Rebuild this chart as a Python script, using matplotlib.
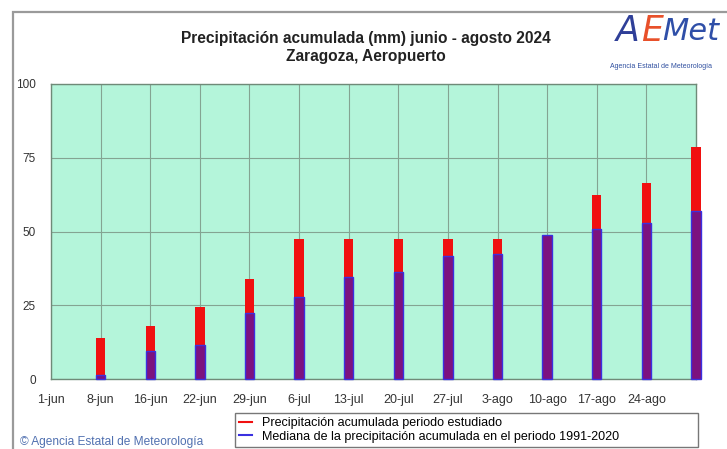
import matplotlib
matplotlib.use("Agg")
import matplotlib.pyplot as plt
from matplotlib.lines import Line2D
from matplotlib.patches import Rectangle

# weekly labels on the x axis (one per grid line)
tick_labels = ['1-jun', '8-jun', '16-jun', '22-jun', '29-jun', '6-jul', '13-jul',
               '20-jul', '27-jul', '3-ago', '10-ago', '17-ago', '24-ago']
# accumulated precipitation 2024 (mm), one bar per week end
observed = [14.0, 18.1, 24.3, 33.9, 47.3, 47.3, 47.6, 47.6, 47.6, 47.6, 62.4, 66.4, 78.5]
# median accumulated precipitation 1991-2020 (mm)
median = [1.5, 9.4, 11.5, 22.5, 27.7, 34.7, 36.2, 41.6, 42.4, 48.9, 50.8, 52.8, 57.1]

plt.rcParams['font.family'] = ['Liberation Sans', 'DejaVu Sans']

W, H = 727, 449
fig = plt.figure(figsize=(W / 100, H / 100), dpi=100)

# outer frame of the image
fig.patches.append(Rectangle((13 / W, -0.1), 1.0, 1 - 12 / H + 0.1, transform=fig.transFigure,
                             fill=False, edgecolor='#9a9a9a', linewidth=1.6))

ax = fig.add_axes([51 / W, 1 - 379 / H, (696 - 51) / W, (379 - 84) / H])
ax.set_facecolor('#b4f5da')

pos = list(range(1, len(observed) + 1))
ax.bar(pos, observed, width=0.19, color='#f01010', zorder=3, clip_on=False)
ax.bar(pos, median, width=0.19, color='#7c127f', edgecolor='#3a30e0', linewidth=1.0,
       zorder=4, clip_on=False)

ax.set_xlim(0, 13)
ax.set_ylim(0, 100)
ax.set_xticks(range(len(tick_labels)))
ax.set_xticklabels(tick_labels)
ax.set_yticks([0, 25, 50, 75, 100])
ax.tick_params(axis='x', length=0, labelsize=9, labelcolor='#333333', pad=11)
ax.tick_params(axis='y', length=0, labelsize=8.5, labelcolor='#333333', pad=11)
ax.grid(True, color='#84a492', linewidth=0.8, zorder=1)
for s in ax.spines.values():
    s.set_color('#6f8a78')
    s.set_linewidth(1.0)

fig.text(366 / W, 1 - 39 / H, 'Precipitación acumulada (mm) junio - agosto 2024',
         ha='center', va='center', fontsize=11.2, fontweight='bold', color='#222222')
fig.text(366 / W, 1 - 57 / H, 'Zaragoza, Aeropuerto',
         ha='center', va='center', fontsize=11.2, fontweight='bold', color='#222222')

# AEMET logo as text
fig.text(616 / W, 1 - 31 / H, 'A', ha='left', va='center', fontsize=25,
         color='#2f3f98', fontstyle='italic', family=['DejaVu Sans'])
fig.text(641 / W, 1 - 31 / H, 'E', ha='left', va='center', fontsize=25,
         color='#e8502a', fontstyle='italic', family=['DejaVu Sans'])
fig.text(662 / W, 1 - 31 / H, 'Met', ha='left', va='center', fontsize=22,
         color='#2f4fa8', fontstyle='italic', family=['DejaVu Sans'])
fig.text(661 / W, 1 - 66 / H, 'Agencia Estatal de Meteorología', ha='center', va='center',
         fontsize=5, color='#3050a0')

fig.text(20 / W, 1 - 442 / H, '© Agencia Estatal de Meteorología', ha='left', va='center',
         fontsize=8.6, color='#5070b0')

handles = [Line2D([], [], color='#f01010', linewidth=1.5),
           Line2D([], [], color='#3a30e0', linewidth=1.5)]
leg = fig.legend(handles,
                 ['Precipitación acumulada periodo estudiado',
                  'Mediana de la precipitación acumulada en el periodo 1991-2020'],
                 loc='upper left', bbox_to_anchor=(235 / W, 0, (698 - 235) / W, 1 - 413 / H),
                 mode='expand', fontsize=9, frameon=True, fancybox=False,
                 handlelength=1.0, handletextpad=0.8, borderpad=0.35, labelspacing=0.1,
                 borderaxespad=0)
leg.get_frame().set_edgecolor('#555555')
leg.get_frame().set_linewidth(1.0)

fig.savefig('out.png', dpi=100)
